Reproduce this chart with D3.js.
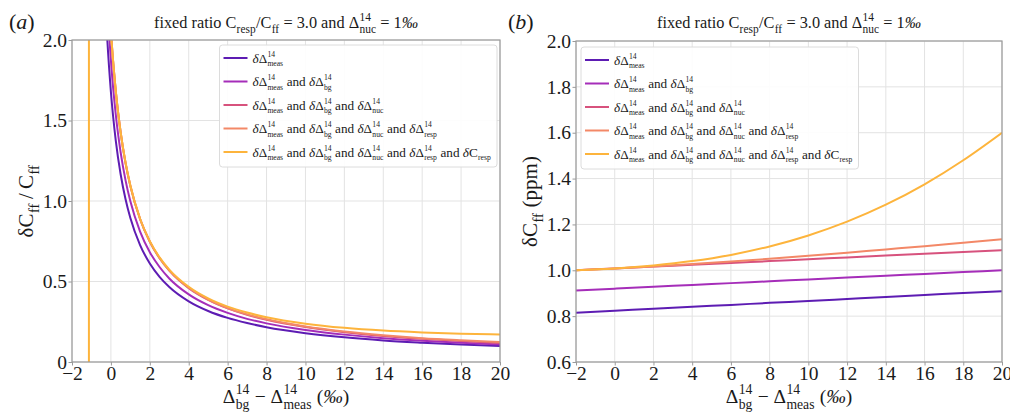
<!DOCTYPE html>
<html>
<head>
<meta charset="utf-8">
<script src="https://cdn.jsdelivr.net/npm/d3@7"></script>
<style>
  body { margin: 0; background: #fff; }
  text { font-family: "Liberation Serif", "Times New Roman", serif; fill: #1a1a1a; }
</style>
</head>
<body>
<svg id="fig" width="1010" height="413"></svg>
<script>
// ---- data ----
// panel (a): relative uncertainty dCff / Cff
const xA = [-0.3, -0.2, 0, 0.25, 0.5, 0.75, 1, 1.5, 2, 2.5, 3, 4, 5, 6, 7, 8, 10, 12, 14, 16, 18, 20];
const aMeas = [2.28, 2.035, 1.677, 1.375, 1.166, 1.012, 0.894, 0.726, 0.612, 0.529, 0.466, 0.377, 0.317, 0.274, 0.242, 0.216, 0.179, 0.153, 0.134, 0.12, 0.108, 0.099];
const aMeasBg = [2.547, 2.274, 1.873, 1.536, 1.302, 1.13, 0.998, 0.81, 0.682, 0.59, 0.519, 0.42, 0.353, 0.305, 0.268, 0.24, 0.199, 0.17, 0.148, 0.132, 0.119, 0.109];
const aNuc = [2.791, 2.492, 2.053, 1.683, 1.426, 1.237, 1.093, 0.887, 0.747, 0.645, 0.568, 0.459, 0.386, 0.333, 0.293, 0.262, 0.217, 0.185, 0.162, 0.144, 0.13, 0.1185];
const aResp = [2.791, 2.492, 2.053, 1.683, 1.426, 1.238, 1.094, 0.888, 0.748, 0.646, 0.569, 0.461, 0.388, 0.335, 0.296, 0.265, 0.22, 0.189, 0.166, 0.148, 0.135, 0.124];
// the last series has a pole near -1.13 (drawn as a vertical line)
const xAAll = [-1.14, -1.12, -0.6, -0.3, -0.2, 0, 0.25, 0.5, 0.75, 1, 1.5, 2, 2.5, 3, 4, 5, 6, 7, 8, 10, 12, 14, 16, 18, 20];
const aAll = [-200, 200, 4.37, 2.791, 2.492, 2.053, 1.683, 1.428, 1.24, 1.096, 0.89, 0.751, 0.65, 0.574, 0.467, 0.395, 0.344, 0.307, 0.278, 0.238, 0.212, 0.195, 0.184, 0.176, 0.171];

// panel (b): absolute uncertainty dCff (ppm)
const xB = [-2, 0, 2, 4, 6, 8, 10, 12, 14, 16, 18, 20];
const bMeas = [0.815, 0.824, 0.832, 0.841, 0.849, 0.858, 0.866, 0.875, 0.884, 0.892, 0.901, 0.909];
const bMeasBg = [0.912, 0.92, 0.928, 0.936, 0.944, 0.952, 0.96, 0.968, 0.976, 0.984, 0.992, 1.0];
const bNuc = [1.0, 1.008, 1.016, 1.024, 1.032, 1.04, 1.048, 1.056, 1.064, 1.072, 1.08, 1.088];
const bResp = [1.0, 1.008, 1.017, 1.027, 1.038, 1.05, 1.063, 1.077, 1.091, 1.105, 1.12, 1.135];
const bAll = [1.0, 1.008, 1.021, 1.04, 1.067, 1.104, 1.152, 1.212, 1.286, 1.375, 1.48, 1.6];

const colors = ["#5d1cb3", "#a52db9", "#d7527d", "#f38867", "#fdb43c"];
const xTicks = [-2, 0, 2, 4, 6, 8, 10, 12, 14, 16, 18, 20];
const yTicksA = [0, 0.5, 1.0, 1.5, 2.0];
const yTicksB = [0.6, 0.8, 1.0, 1.2, 1.4, 1.6, 1.8, 2.0];

// legend entries as pieces of math text
const dd = sub => [{ t: "δ", it: true }, { t: "Δ" }, { sup: "14", sub: sub }];
const AND = { t: "\u00a0and\u00a0" };
const legendLabels = [
  [...dd("meas")],
  [...dd("meas"), AND, ...dd("bg")],
  [...dd("meas"), AND, ...dd("bg"), AND, ...dd("nuc")],
  [...dd("meas"), AND, ...dd("bg"), AND, ...dd("nuc"), AND, ...dd("resp")],
  [...dd("meas"), AND, ...dd("bg"), AND, ...dd("nuc"), AND, ...dd("resp"), AND, { t: "δ", it: true }, { t: "C" }, { sub: "resp" }]
];
const titleParts = [{ t: "fixed ratio C" }, { sub: "resp" }, { t: "/C" }, { sub: "ff" },
  { t: "\u00a0=\u00a03.0 and Δ" }, { sup: "14", sub: "nuc" }, { t: "\u00a0=\u00a01" }, { t: "‰", it: true }];
const xLabelParts = [{ t: "Δ" }, { sup: "14", sub: "bg" }, { t: "\u00a0−\u00a0Δ" }, { sup: "14", sub: "meas" },
  { t: "\u00a0(" }, { t: "‰", it: true }, { t: ")" }];

const svg = d3.select("#fig");

// lays out text with stacked super/subscripts, returns the group
function mathText(parent, parts, size, anchor, ratio = 0.7) {
  const g = parent.append("g");
  let x = 0;
  parts.forEach(p => {
    if (p.t !== undefined) {
      const t = g.append("text").attr("x", x).attr("font-size", size).text(p.t);
      if (p.it) t.attr("font-style", "italic");
      x += t.node().getComputedTextLength();
    } else {
      let w = 0;
      if (p.sup) {
        const t = g.append("text").attr("x", x + size * 0.02).attr("y", -size * 0.45)
          .attr("font-size", size * ratio).text(p.sup);
        w = Math.max(w, t.node().getComputedTextLength());
      }
      if (p.sub) {
        const t = g.append("text").attr("x", x + size * 0.02).attr("y", size * 0.3)
          .attr("font-size", size * ratio).text(p.sub);
        w = Math.max(w, t.node().getComputedTextLength());
      }
      x += w + size * 0.04;
    }
  });
  if (anchor === "middle") {
    g.selectAll("text").attr("x", function () { return +this.getAttribute("x") - x / 2; });
  }
  g.property("__w", x);
  return g;
}

const fmt = d => d < 0 ? "−" + Math.abs(d) : (d === 0 ? "0" : d3.format(".1f")(d));
const fmtX = d => d < 0 ? "−" + Math.abs(d) : String(d);

function drawPanel(o) {
  const x = d3.scaleLinear().domain([-2, 20]).range([o.left, o.right]);
  const y = d3.scaleLinear().domain(o.yDomain).range([o.bottom, o.top]);
  const g = svg.append("g");

  // grid
  g.append("g").selectAll("line").data(xTicks).join("line")
    .attr("x1", d => x(d)).attr("x2", d => x(d)).attr("y1", o.top).attr("y2", o.bottom)
    .attr("stroke", "#e3e3e3").attr("stroke-width", 1);
  g.append("g").selectAll("line").data(o.yTicks).join("line")
    .attr("x1", o.left).attr("x2", o.right).attr("y1", d => y(d)).attr("y2", d => y(d))
    .attr("stroke", "#e3e3e3").attr("stroke-width", 1);

  // curves
  const clipId = "clip-" + o.letter;
  svg.append("clipPath").attr("id", clipId).append("rect")
    .attr("x", o.left).attr("y", o.top).attr("width", o.right - o.left).attr("height", o.bottom - o.top);
  const line = d3.line().x(d => x(d[0])).y(d => y(d[1])).curve(d3.curveMonotoneX);
  const lines = g.append("g").attr("clip-path", `url(#${clipId})`);
  o.series.forEach((s, i) => {
    lines.append("path")
      .datum(s.x.map((v, j) => [v, s.y[j]]))
      .attr("fill", "none").attr("stroke", colors[i]).attr("stroke-width", 2)
      .attr("d", line);
  });

  // frame
  g.append("rect").attr("x", o.left).attr("y", o.top)
    .attr("width", o.right - o.left).attr("height", o.bottom - o.top)
    .attr("fill", "none").attr("stroke", "#9a9a9a").attr("stroke-width", 1.2);

  // axes
  const ax = g.append("g").attr("transform", `translate(0,${o.bottom})`)
    .call(d3.axisBottom(x).tickValues(xTicks).tickFormat(fmtX).tickSize(3.5).tickPadding(1));
  const ay = g.append("g").attr("transform", `translate(${o.left},0)`)
    .call(d3.axisLeft(y).tickValues(o.yTicks).tickFormat(fmt).tickSize(3.5).tickPadding(1.5));
  [ax, ay].forEach(a => {
    a.select(".domain").remove();
    a.selectAll(".tick line").attr("stroke", "#9a9a9a");
    a.selectAll(".tick text").attr("font-size", 19.5).attr("fill", "#1a1a1a");
  });

  // title and panel letter
  const cx = (o.left + o.right) / 2;
  mathText(svg, titleParts, 16.3, "middle").attr("transform", `translate(${cx},28)`);
  const lt = svg.append("text").attr("x", o.letterX).attr("y", 29).attr("font-size", 22);
  lt.append("tspan").text("(");
  lt.append("tspan").attr("font-style", "italic").text(o.letter);
  lt.append("tspan").text(")");

  // x label
  mathText(svg, xLabelParts, 19.5, "middle").attr("transform", `translate(${cx},403)`);

  // y label
  mathText(svg, o.yLabel, 21, "middle")
    .attr("transform", `translate(${o.yLabelX},${(o.top + o.bottom) / 2}) rotate(-90)`);

  // legend
  const lg = svg.append("g");
  const box = lg.append("rect").attr("fill", "#fff").attr("fill-opacity", 0.9)
    .attr("stroke", "#dcdcdc").attr("rx", 3);
  let maxW = 0;
  legendLabels.forEach((parts, i) => {
    const yy = o.legendTop + 13 + i * 23.5;
    lg.append("line").attr("x1", 4).attr("x2", 28).attr("y1", yy).attr("y2", yy)
      .attr("stroke", colors[i]).attr("stroke-width", 2);
    const t = mathText(lg, parts, 13.2, "start", 0.58).attr("transform", `translate(33,${yy + 4.5})`);
    maxW = Math.max(maxW, t.property("__w"));
  });
  const bw = 33 + maxW + 6;
  box.attr("x", 0).attr("y", o.legendTop).attr("width", bw).attr("height", 122);
  const lx = o.legendRight !== undefined ? o.legendRight - bw : o.legendLeft;
  lg.attr("transform", `translate(${lx},0)`);
}

drawPanel({
  letter: "a", letterX: 9, left: 72, right: 500, top: 40, bottom: 362,
  yDomain: [0, 2], yTicks: yTicksA, yLabelX: 33,
  yLabel: [{ t: "δC" }, { sub: "ff" }, { t: "\u2009/\u2009C" }, { sub: "ff" }],
  legendTop: 45, legendRight: 497,
  series: [
    { x: xA, y: aMeas }, { x: xA, y: aMeasBg }, { x: xA, y: aNuc },
    { x: xA, y: aResp }, { x: xAAll, y: aAll }
  ]
});

drawPanel({
  letter: "b", letterX: 508, left: 576, right: 1002, top: 41, bottom: 362,
  yDomain: [0.6, 2.0], yTicks: yTicksB, yLabelX: 537,
  yLabel: [{ t: "δC" }, { sub: "ff" }, { t: "\u00a0(ppm)" }],
  legendTop: 47, legendLeft: 581,
  series: [
    { x: xB, y: bMeas }, { x: xB, y: bMeasBg }, { x: xB, y: bNuc },
    { x: xB, y: bResp }, { x: xB, y: bAll }
  ]
});
</script>
</body>
</html>
